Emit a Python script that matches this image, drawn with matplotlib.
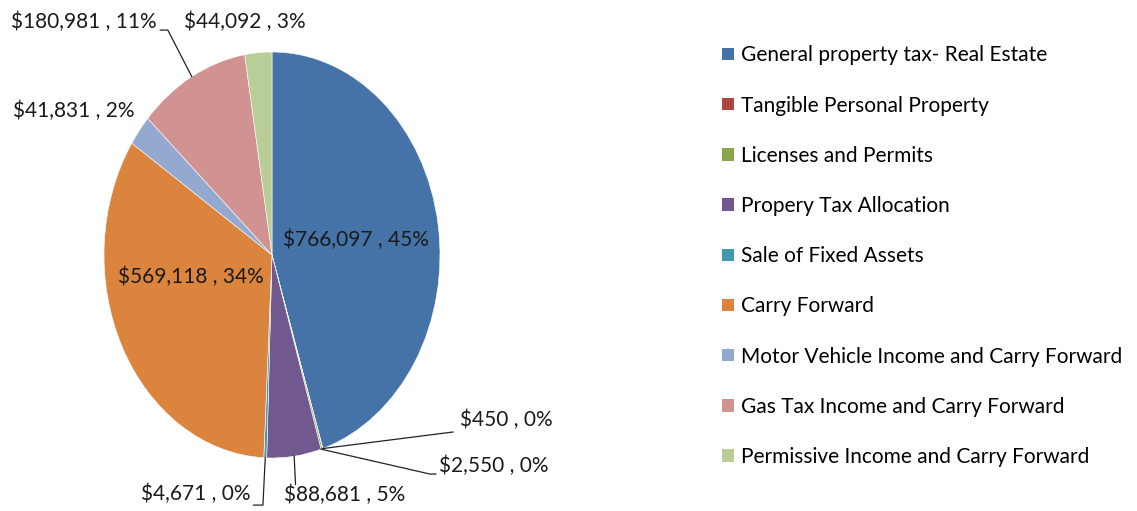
import matplotlib.pyplot as plt
import numpy as np

# Data
categories = ['General property tax- Real Estate', 'Tangible Personal Property',
              'Licenses and Permits', 'Propery Tax Allocation', 'Sale of Fixed Assets',
              'Carry Forward', 'Motor Vehicle Income and Carry Forward',
              'Gas Tax Income and Carry Forward', 'Permissive Income and Carry Forward']
values = [766097, 450, 2550, 88681, 4671, 569118, 41831, 180981, 44092]
colors = ['#4572A7', '#AA4643', '#89A54E', '#71588F', '#4198AF',
          '#DB843D', '#93A9CF', '#D19392', '#B9CD96']

# label positions (data units of the pie axes) and leader line bends
label_pos = [(0.50, 0.075), (1.08, -0.87), (0.98, -1.08), (0.43, -1.18), (-0.49, -1.18),
             (-0.48, -0.11), (-1.18, 0.71), (-1.12, 1.15), (-0.16, 1.15)]
label_ha = ['center', 'left', 'left', 'center', 'right', 'center', 'center', 'center', 'center']
leaders = {
    1: [(1.077, -0.872)],
    2: [(0.94, -1.079), (0.975, -1.079)],
    3: [(0.14, -1.13)],
    4: [(-0.054, -1.232), (-0.11, -1.232)],
    7: [(-0.62, 1.108), (-0.665, 1.108)],
}

plt.rcParams['font.family'] = ['Lato', 'DejaVu Sans']
fig = plt.figure(figsize=(11.37, 5.11), dpi=100)
ax = fig.add_axes([104 / 1137, 53 / 511, 336 / 1137, 406 / 511])

wedges, _ = ax.pie(values, colors=colors, startangle=90, counterclock=False,
                   radius=1, wedgeprops=dict(edgecolor='white', linewidth=0.4))
ax.set_aspect('auto')
ax.set_xlim(-1, 1)
ax.set_ylim(-1, 1)

total = sum(values)
for i, (w, v) in enumerate(zip(wedges, values)):
    pct = round(v / total * 100)
    text = f"${v:,} , {pct}%"
    x, y = label_pos[i]
    if i in leaders:
        if i in (1, 2):
            ang = np.deg2rad(w.theta1)  # both tiny slices point at the same edge
        else:
            ang = np.deg2rad((w.theta1 + w.theta2) / 2)
        pts = [(np.cos(ang), np.sin(ang))] + leaders[i]
        xs, ys = zip(*pts)
        ax.plot(xs, ys, color='#222222', linewidth=0.9, clip_on=False)
        if i == 1:
            x, y = leaders[i][-1][0] + 0.04, leaders[i][-1][1] + 0.06
        elif i == 2:
            x, y = leaders[i][-1][0] + 0.02, leaders[i][-1][1] + 0.04
        elif i == 4:
            x, y = leaders[i][-1][0] - 0.02, leaders[i][-1][1] + 0.055
        elif i == 3:
            y = -1.18
    ax.text(x, y, text, ha=label_ha[i], va='center', fontsize=15, color='#1a1a1a',
            clip_on=False)

handles = [plt.Rectangle((0, 0), 1, 1, facecolor=c, edgecolor='none') for c in colors]
fig.legend(handles, categories, loc='upper left', bbox_to_anchor=(714 / 1137, 1 - 37 / 511),
           frameon=False, fontsize=15, handlelength=0.55, handleheight=0.55,
           handletextpad=0.35, labelspacing=1.45, borderaxespad=0)

fig.savefig('out.png', dpi=100)
